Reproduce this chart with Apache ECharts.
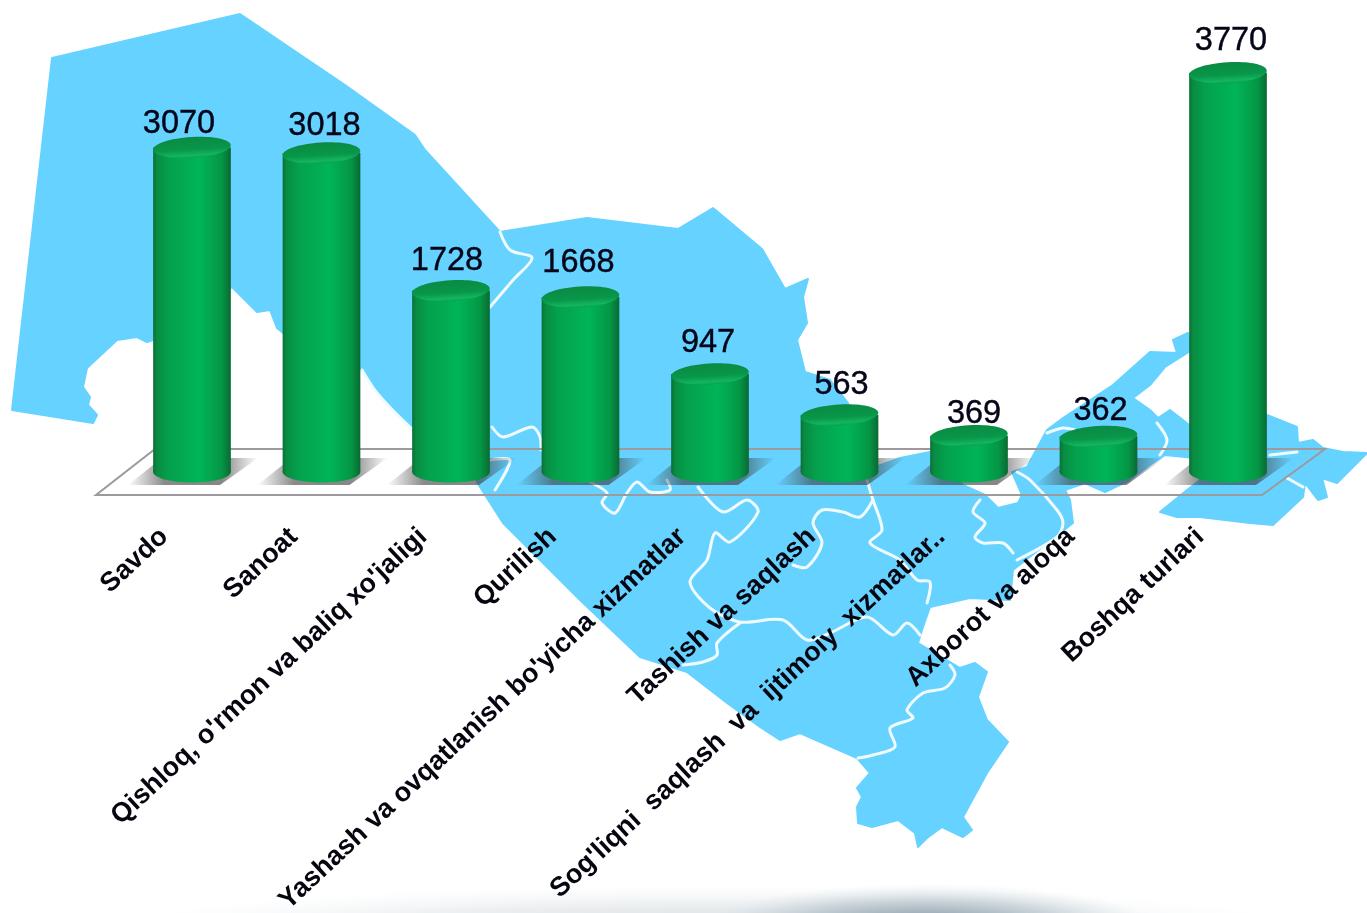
<!DOCTYPE html>
<html><head><meta charset="utf-8">
<style>html,body{margin:0;padding:0;background:#fff}#c{width:1367px;height:913px}</style>
<script src="https://cdn.jsdelivr.net/npm/echarts@6/dist/echarts.min.js"></script>
</head><body><div id="c"></div>
<script>
const categories = ["Savdo","Sanoat","Qishloq, o'rmon va baliq xo'jaligi","Qurilish","Yashash va ovqatlanish bo'yicha xizmatlar","Tashish va saqlash","Sog'liqni  saqlash  va  ijtimoiy  xizmatlar..","Axborot va aloqa","Boshqa turlari"];
const values = [3070,3018,1728,1668,947,563,369,362,3770];
const labelNudge = [[-13,4],[3,0],[-4,-3],[-2,-7],[-2,-4],[2,-3],[5,5],[2,2],[3,-5]];

// decorative backdrop: map silhouette, region borders
const mapOutline = [[52,58],[240,14],[345,85],[415,135],[425,150],[500,232],[587,218],[678,229],[713,208],[762,249],[785,289],[808,279],[803,297],[807,323],[797,340],[805,372],[830,380],[848,403],[860,440],[878,466],[900,458],[930,452],[950,470],[963,485],[985,495],[998,508],[1018,503],[1022,495],[1012,472],[1027,467],[1047,430],[1063,418],[1113,385],[1150,352],[1177,353],[1173,340],[1188,333],[1192,350],[1165,367],[1150,385],[1133,398],[1150,410],[1158,418],[1170,410],[1183,420],[1195,430],[1230,400],[1267,415],[1297,427],[1298,443],[1313,440],[1323,448],[1343,452],[1367,453],[1363,457],[1337,483],[1322,478],[1327,497],[1318,500],[1305,483],[1303,497],[1273,525],[1250,523],[1200,517],[1177,517],[1160,512],[1187,490],[1200,480],[1195,458],[1165,455],[1150,465],[1130,480],[1105,492],[1085,483],[1065,490],[1070,500],[1073,523],[1013,570],[1010,600],[970,598],[930,607],[923,627],[918,643],[960,668],[975,663],[987,672],[978,697],[987,720],[1008,742],[987,773],[963,817],[972,830],[963,837],[942,827],[927,838],[918,847],[915,833],[898,820],[872,827],[858,823],[857,807],[862,797],[857,788],[870,773],[857,758],[800,733],[780,740],[760,727],[727,703],[687,672],[640,657],[580,600],[503,523],[480,487],[470,470],[440,460],[420,440],[410,427],[377,393],[362,370],[283,333],[277,328],[270,310],[257,312],[232,287],[153,340],[147,342],[137,337],[117,340],[87,368],[83,387],[90,397],[88,405],[97,415],[93,423],[12,410]];
const borderLines = [
 [[500,232],[510,250],[532,258],[513,280],[490,307]],
 [[362,370],[377,393],[410,427],[440,450]],
 [[492,427],[503,437],[532,427],[540,437],[541,450]],
 [[490,460],[510,460],[495,490]],
 [[590,482],[607,493],[602,503],[615,513],[627,493],[637,482],[650,492],[670,490],[667,480]],
 [[698,487],[723,512],[747,500],[758,512],[730,542],[715,533],[707,560],[690,582],[710,608],[740,622],[783,620],[807,640],[830,633],[867,617],[893,635],[907,623],[920,635]],
 [[740,623],[717,643],[717,655],[703,662],[683,665]],
 [[867,480],[873,500],[882,530],[870,543],[900,560],[917,580],[930,582],[927,603]],
 [[873,500],[860,517],[843,512],[822,510],[813,523],[822,543],[807,567],[793,565]],
 [[950,665],[955,675],[945,688],[923,693],[907,710],[913,718],[890,728],[895,747],[873,755],[858,758]],
 [[1017,472],[1030,480],[1057,510],[1063,523],[1057,537],[1017,560]],
 [[980,500],[973,512],[985,523],[975,537],[983,543],[1003,543],[1013,553]],
 [[1047,433],[1063,428],[1075,430]],
 [[1157,423],[1167,440],[1160,455]],
 [[1270,455],[1297,452]],
 [[1287,478],[1303,487]]
];
const platform = [[96,495],[1262,495],[1325,449],[155,449]];

const RY = 10.5;
function renderCylinder(params, api){
  const i = params.dataIndex;
  const top = api.coord([i, api.value(1)]);
  const base = api.coord([i, 0]);
  const w = api.size([1,0])[0]*0.6;
  const cx = top[0], yT = top[1], yB = base[1]-3, rx = w/2;
  const body = {type:'linear',x:0,y:0,x2:1,y2:0,colorStops:[
    {offset:0,color:'#0a7036'},{offset:.05,color:'#088c42'},{offset:.2,color:'#04a04e'},
    {offset:.6,color:'#00b557'},{offset:.88,color:'#049645'},{offset:1,color:'#0a6a33'}]};
  const shadow = {type:'linear',x:0,y:0,x2:1,y2:0,colorStops:[
    {offset:0,color:'rgba(60,60,60,0)'},{offset:.28,color:'rgba(60,60,60,.6)'},
    {offset:.72,color:'rgba(60,60,60,.62)'},{offset:1,color:'rgba(60,60,60,0)'}]};
  return {type:'group',children:[
    {type:'polygon',shape:{points:[[cx-64,yB+13],[cx+28,yB+13],[cx+66,yB-14],[cx-30,yB-14]]},style:{fill:shadow}},
    {type:'ellipse',shape:{cx:cx,cy:yB,rx:rx,ry:RY},style:{fill:body}},
    {type:'rect',shape:{x:cx-rx,y:yT,width:w,height:yB-yT},style:{fill:body}},
    {type:'ellipse',shape:{cx:0,cy:0,rx:rx,ry:RY},x:cx,y:yT,rotation:0.06,
     style:{fill:{type:'linear',x:0,y:0,x2:0,y2:1,colorStops:[
       {offset:0,color:'#0a8a42'},{offset:.6,color:'#08974a'},{offset:.88,color:'#14b560'},{offset:1,color:'#0aa052'}]}}},
    {type:'text',x:cx+labelNudge[i][0],y:yT-27+labelNudge[i][1],style:{text:String(api.value(1)),
      fill:'#050518',stroke:'#050518',lineWidth:.4,font:'32.5px "Liberation Sans"',align:'center',verticalAlign:'middle'}}
  ]};
}
function floorGlow(x,y,sx,sy,a){
  return {type:'circle',shape:{cx:0,cy:0,r:50},x:x,y:y,scaleX:sx,scaleY:sy,silent:true,
    style:{fill:{type:'radial',x:.5,y:.5,r:.5,colorStops:[{offset:0,color:'rgba(80,110,130,'+a+')'},{offset:.6,color:'rgba(110,135,150,'+(a*.4)+')'},{offset:1,color:'rgba(170,190,200,0)'}]}}};
}
const backdrop = [
  {type:'polygon',shape:{points:mapOutline},style:{fill:'#66d2ff',stroke:'#66d2ff',lineWidth:2,lineJoin:'round'},silent:true},
  ...borderLines.map(p=>({type:'polyline',shape:{points:p,smooth:0.3},style:{stroke:'#f0fbff',lineWidth:3,fill:null,lineJoin:'round',lineCap:'round'},silent:true})),
  {type:'polygon',shape:{points:platform},style:{fill:'rgba(255,255,255,0)',stroke:'#9c9a9c',lineWidth:2},silent:true},
  floorGlow(710,928,12,.85,.28),
  floorGlow(930,926,4.5,.85,.75)
];
const chart = echarts.init(document.getElementById('c'),null,{renderer:'canvas'});
chart.setOption({
  animation:false,
  backgroundColor:'#fff',
  graphic:{elements:backdrop},
  grid:{left:127.25,width:1165.5,top:48.2,height:426.8,outerBoundsMode:'none'},
  xAxis:{type:'category',data:categories,axisLine:{show:false},axisTick:{show:false},splitLine:{show:false},
    axisLabel:{interval:0,rotate:43,hideOverlap:false,margin:32,padding:[0,38,0,0],verticalAlign:'middle',
      color:'#060610',fontFamily:'"Liberation Sans"',fontWeight:'bold',fontSize:27}},
  yAxis:{type:'value',min:0,max:4000,show:false,splitLine:{show:false}},
  series:[{type:'custom',renderItem:renderCylinder,clip:false,data:values.map((v,i)=>[i,v])}]
});
</script></body></html>
